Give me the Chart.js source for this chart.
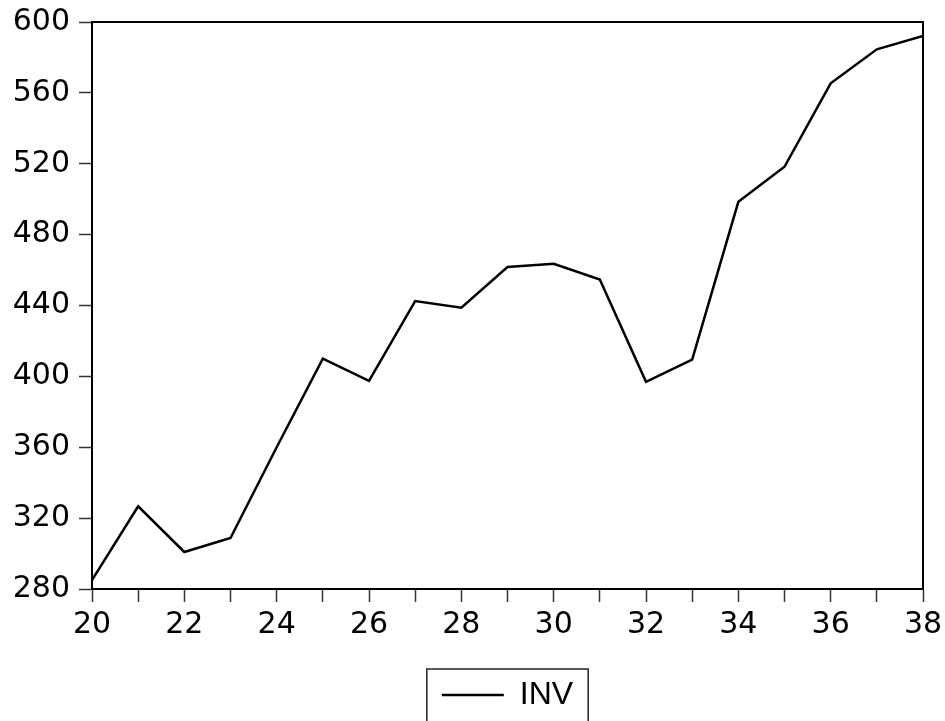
<!DOCTYPE html>
<html>
<head>
<meta charset="utf-8">
<script src="https://cdn.jsdelivr.net/npm/chart.js@4"></script>
<style>
  html, body { margin: 0; padding: 0; background: #fff; }
  #wrap { position: relative; width: 945px; height: 721px; }
</style>
</head>
<body>
<div id="wrap"><canvas id="invChart"></canvas></div>
<script>
const years = [20, 21, 22, 23, 24, 25, 26, 27, 28, 29, 30, 31, 32, 33, 34, 35, 36, 37, 38];
const inv = [285, 326.7, 300.9, 308.8, 360, 410, 397.5, 442.5, 438.7, 461.7, 463.5, 454.7, 396.9, 409.5, 498.5, 518.3, 565.4, 584.6, 592.1];
const yTicks = [280, 320, 360, 400, 440, 480, 520, 560, 600];
const seriesName = "INV";

const tickFont = "'DejaVu Sans', sans-serif";
const legendFont = "'Liberation Sans', Arial, sans-serif";

// box round the plot area and round the legend
const framePlugin = {
  id: "frame",
  afterDraw(chart) {
    const { ctx, chartArea } = chart;
    ctx.save();
    ctx.strokeStyle = "#000";
    ctx.lineWidth = 2;
    ctx.strokeRect(chartArea.left, chartArea.top, chartArea.right - chartArea.left, chartArea.bottom - chartArea.top);

    const hb = chart.legend.legendHitBoxes[0];
    if (hb) {
      ctx.lineWidth = 1.5;
      ctx.strokeStyle = "#222";
      ctx.strokeRect(hb.left - 15, hb.top - 10, hb.width + 30, 80);
    }
    ctx.restore();
  },
};

const ctx = document.getElementById("invChart").getContext("2d");
new Chart(ctx, {
  type: "line",
  data: {
    datasets: [
      {
        label: seriesName,
        data: years.map((x, i) => ({ x: x, y: inv[i] })),
        borderColor: "#000",
        backgroundColor: "#000",
        borderWidth: 2.5,
        pointRadius: 0,
        tension: 0,
        fill: false,
      },
    ],
  },
  options: {
    responsive: true,
    maintainAspectRatio: false,
    animation: false,
    layout: {
      padding: { top: 22, right: 22, left: 0, bottom: 0 },
    },
    plugins: {
      legend: {
        position: "bottom",
        fullSize: false,
        labels: {
          usePointStyle: true,
          pointStyle: "line",
          pointStyleWidth: 62,
          padding: 10,
          color: "#000",
          font: { size: 32, family: legendFont },
        },
      },
      tooltip: { enabled: false },
    },
    scales: {
      x: {
        type: "linear",
        min: 20,
        max: 38,
        afterFit: (scale) => {
          scale.height = 80;
          scale.paddingLeft = 0;
          scale.paddingRight = 0;
        },
        ticks: {
          stepSize: 1,
          autoSkip: false,
          maxRotation: 0,
          padding: 5,
          color: "#000",
          font: { size: 30, family: tickFont },
          callback: (v) => (v % 2 === 0 ? String(v) : ""),
        },
        grid: {
          drawOnChartArea: false,
          drawTicks: true,
          tickLength: 13,
          tickColor: "#333",
          tickWidth: 1.5,
        },
        border: { display: true, color: "#000", width: 2 },
      },
      y: {
        min: 280,
        max: 600,
        afterFit: (scale) => {
          scale.width = 92;
          scale.paddingTop = 0;
          scale.paddingBottom = 0;
        },
        afterBuildTicks: (scale) => {
          scale.ticks = yTicks.map((v) => ({ value: v }));
        },
        ticks: {
          padding: 9,
          color: "#000",
          font: { size: 30, family: tickFont },
        },
        grid: {
          drawOnChartArea: false,
          drawTicks: true,
          tickLength: 13,
          tickColor: "#333",
          tickWidth: 1.5,
        },
        border: { display: true, color: "#000", width: 2 },
      },
    },
  },
  plugins: [framePlugin],
});
</script>
</body>
</html>
